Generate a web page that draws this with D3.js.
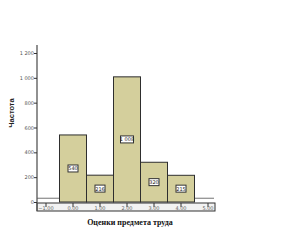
<!DOCTYPE html>
<html><head><meta charset="utf-8">
<script src="https://cdn.jsdelivr.net/npm/d3@7"></script>
<style>body{margin:0;background:#fff}svg{display:block}</style>
</head><body>
<script>
const categories = [0, 1, 2, 3, 4];
const values = [540, 216, 1008, 320, 215];
const valueLabels = ["540", "216", "1 008", "320", "215"];
const xTicks = [-1, 0, 1, 2, 3, 4, 5];
const yTicks = [0, 200, 400, 600, 800, 1000, 1200];
const yTickLabels = ["0", "200", "400", "600", "800", "1 000", "1 200"];
const edgeLevel = 30;
const xTitle = "Оценки предмета труда";
const yTitle = "Частота";

const W = 307, H = 245;
const svg = d3.select("body").append("svg").attr("width", W).attr("height", H);

const x = d3.scaleLinear().domain([-1, 5]).range([46, 208]);
const y = d3.scaleLinear().domain([0, 1200]).range([202, 53]);
const left = 37, right = 215;

// edge line
svg.append("line").attr("x1", left).attr("x2", x(-0.5)).attr("y1", y(edgeLevel)).attr("y2", y(edgeLevel))
  .attr("stroke", "#8a8a8a").attr("stroke-width", 1.2);
svg.append("line").attr("x1", x(4.5)).attr("x2", right - 1).attr("y1", y(edgeLevel)).attr("y2", y(edgeLevel))
  .attr("stroke", "#8a8a8a").attr("stroke-width", 1.2);

// bars
svg.selectAll("rect.bar").data(categories).join("rect").attr("class", "bar")
  .attr("x", d => x(d - 0.5)).attr("width", d => x(d + 0.5) - x(d - 0.5))
  .attr("y", (d, i) => y(values[i])).attr("height", (d, i) => y(0) - y(values[i]))
  .attr("fill", "#d4cf9c").attr("stroke", "#2e2e2e").attr("stroke-width", 1);

// value labels
const lab = svg.selectAll("g.lab").data(categories).join("g").attr("class", "lab")
  .attr("transform", (d, i) => `translate(${x(d)},${(y(values[i]) + y(0)) / 2})`);
lab.append("rect").attr("x", (d, i) => valueLabels[i].length > 3 ? -6.5 : -5).attr("y", -3.5)
  .attr("width", (d, i) => valueLabels[i].length > 3 ? 13 : 10).attr("height", 7)
  .attr("fill", "#fff").attr("stroke", "#333").attr("stroke-width", 1);
lab.append("text").attr("text-anchor", "middle").attr("y", 2)
  .attr("font-family", "DejaVu Sans").attr("font-size", 5).attr("fill", "#222")
  .text((d, i) => valueLabels[i]);

// x axis box
svg.append("rect").attr("x", left).attr("y", 203).attr("width", right - left).attr("height", 8)
  .attr("fill", "#f2f2f2").attr("stroke", "#333").attr("stroke-width", 1);
const xg = svg.append("g");
xg.selectAll("line").data(xTicks).join("line")
  .attr("x1", d => x(d)).attr("x2", d => x(d)).attr("y1", 203).attr("y2", 207)
  .attr("stroke", "#333");
xg.selectAll("text").data(xTicks).join("text")
  .attr("x", d => x(d)).attr("y", 210).attr("text-anchor", "middle")
  .attr("font-family", "DejaVu Sans").attr("font-size", 5).attr("fill", "#666")
  .text(d => d3.format(".2f")(d));

// y axis
const yAxis = d3.axisLeft(y).tickValues(yTicks).tickSize(3).tickFormat((d, i) => yTickLabels[i]);
const yg = svg.append("g").attr("transform", `translate(${left},0)`).call(yAxis);
yg.select(".domain").attr("d", `M0,45V211`).attr("stroke", "#555").attr("stroke-width", 1.3);
yg.selectAll(".tick line").attr("stroke", "#333");
yg.selectAll(".tick text").attr("font-family", "DejaVu Sans").attr("font-size", 5).attr("fill", "#555").attr("x", -3);

// titles
svg.append("text").attr("transform", "translate(14,113) rotate(-90)").attr("text-anchor", "middle")
  .attr("font-family", "Liberation Sans").attr("font-weight", "bold").attr("font-size", 7.5).attr("fill", "#222")
  .text(yTitle);
svg.append("text").attr("x", 130).attr("y", 225).attr("text-anchor", "middle")
  .attr("font-family", "Liberation Serif").attr("font-weight", "bold").attr("font-size", 8).attr("fill", "#111")
  .text(xTitle);
</script>
</body></html>
